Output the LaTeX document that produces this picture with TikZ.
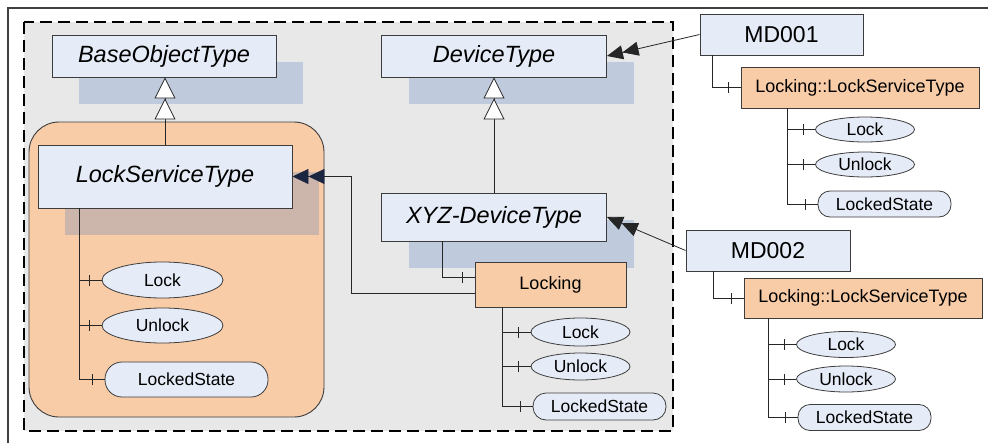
\documentclass[tikz,border=0pt]{standalone}
\usepackage{fontspec}
\setmainfont{Liberation Sans}
\usetikzlibrary{arrows.meta, shapes.geometric, shadows, decorations.markings}

\definecolor{boxblue}{RGB}{230,236,247}
\definecolor{svcorange}{RGB}{249,204,168}
\definecolor{bggray}{RGB}{232,232,232}
\definecolor{edgegray}{RGB}{60,60,60}
\definecolor{tipnavy}{RGB}{27,38,64}
\definecolor{shadeblue}{RGB}{62,113,185}

\begin{document}
\begin{tikzpicture}[
    x=1pt, y=-1pt,
    typebox/.style={rectangle, draw=edgegray, line width=0.9pt, fill=boxblue, inner sep=0pt,
        font=\fontsize{23.5}{26}\selectfont\itshape,
        drop shadow={shadow xshift=27pt, shadow yshift=-27pt, fill=shadeblue, opacity=0.24}},
    mdbox/.style={rectangle, draw=edgegray, line width=0.9pt, fill=boxblue, inner sep=0pt,
        font=\fontsize{23}{26}\selectfont},
    svcbox/.style={rectangle, draw=edgegray, line width=0.9pt, fill=svcorange, inner sep=0pt,
        font=\fontsize{18}{20}\selectfont},
    svcgroup/.style={rectangle, rounded corners=30pt, draw=edgegray, line width=0.9pt, fill=svcorange},
    opleaf/.style={ellipse, draw=edgegray, line width=0.8pt, fill=boxblue, inner sep=0pt,
        font=\fontsize{17.5}{20}\selectfont},
    varleaf/.style={rectangle, rounded corners=12pt, draw=edgegray, line width=0.8pt, fill=boxblue, inner sep=0pt,
        font=\fontsize{17.5}{20}\selectfont},
    conn/.style={draw=black!85, line width=0.8pt},
    branch/.style={conn, postaction={decorate, decoration={markings,
        mark=at position -12pt with {\draw[black!85, line width=0.8pt] (0,-5.5pt) -- (0,5.5pt);}}}},
    inherit/.style={conn, -{Triangle[fill=white, length=21pt, width=21pt, sep=0pt] Triangle[fill=white, length=21pt, width=21pt]}},
    realize/.style={conn, -{Triangle[length=16pt, width=14pt, sep=0pt] Triangle[length=16pt, width=14pt]}},
    refarrow/.style={conn, -{Triangle[color=tipnavy, length=16pt, width=15pt, sep=0pt] Triangle[color=tipnavy, length=16pt, width=15pt]}}
]

    \path[use as bounding box, clip] (0,0) rectangle (988,442);

    % Frame and type area
    \draw[black!75, line width=1.6pt] (8,8) rectangle (1000,450);
    \draw[dash pattern=on 12pt off 6pt, line width=1.6pt, fill=bggray] (24,22) rectangle (673,431);

    % Type definitions
    \node (lsgroup) [svcgroup, minimum width=295pt, minimum height=295pt] at (176.5,269.5) {};
    \node (base) [typebox, minimum width=224pt, minimum height=42pt] at (164,56) {BaseObjectType};
    \node (dev) [typebox, minimum width=225pt, minimum height=42pt] at (494,56) {DeviceType};
    \node (lst) [typebox, minimum width=254pt, minimum height=63pt] at (165,176.5) {LockServiceType};
    \node (xyz) [typebox, minimum width=225pt, minimum height=48pt] at (494,217) {XYZ-DeviceType};
    \node (locking) [svcbox, minimum width=151pt, minimum height=45pt] at (550.5,284.5) {Locking};

    % LockServiceType members
    \node (lstlock) [opleaf, minimum width=121pt, minimum height=36pt] at (162.5,280) {Lock};
    \node (lstunlock) [opleaf, minimum width=121pt, minimum height=35pt] at (162.5,325.5) {Unlock};
    \node (lststate) [varleaf, rounded corners=17pt, minimum width=163pt, minimum height=35pt] at (186.5,379.5) {LockedState};

    % Locking members
    \node (lklock) [opleaf, minimum width=99pt, minimum height=28pt] at (580.5,332) {Lock};
    \node (lkunlock) [opleaf, minimum width=99pt, minimum height=27pt] at (580.5,366.5) {Unlock};
    \node (lkstate) [varleaf, rounded corners=13pt, minimum width=133pt, minimum height=27pt] at (599.5,406.5) {LockedState};

    % Instance MD001
    \node (md1) [mdbox, minimum width=163pt, minimum height=41pt] at (781.5,34.5) {MD001};
    \node (md1svc) [svcbox, minimum width=238pt, minimum height=41pt] at (860,87.5) {Locking::LockServiceType};
    \node (md1lock) [opleaf, minimum width=99pt, minimum height=25pt] at (865,129.5) {Lock};
    \node (md1unlock) [opleaf, minimum width=99pt, minimum height=25pt] at (865,164.5) {Unlock};
    \node (md1state) [varleaf, minimum width=133pt, minimum height=26pt] at (884.5,204) {LockedState};

    % Instance MD002
    \node (md2) [mdbox, minimum width=164pt, minimum height=41pt] at (768,250.5) {MD002};
    \node (md2svc) [svcbox, minimum width=238pt, minimum height=40pt] at (863,298) {Locking::LockServiceType};
    \node (md2lock) [opleaf, minimum width=99pt, minimum height=26pt] at (846,344.5) {Lock};
    \node (md2unlock) [opleaf, minimum width=99pt, minimum height=26pt] at (846,379) {Unlock};
    \node (md2state) [varleaf, minimum width=133pt, minimum height=26pt] at (864.5,417.5) {LockedState};

    % Subtype arrows
    \draw [inherit] (lst.north) -- (lst.north |- base.south);
    \draw [inherit] (xyz.north) -- (dev.south);

    % Type definition arrows
    \draw [realize] (md1.west) -- (dev.east);
    \draw [realize] (md2.west) -- (xyz.east);
    \draw [refarrow] ([yshift=-8.5pt]locking.west) -| ([xshift=59pt]lst.east) -- (lst.east);

    % Component references
    \draw [branch] ([xshift=61pt]xyz.south west) |- ([yshift=7.5pt]locking.west);
    \draw [branch] ([xshift=13pt]md1.south west) |- (md1svc.west);
    \draw [branch] ([xshift=28pt]md2.south west) |- (md2svc.west);

    \draw [branch] ([xshift=42pt]lst.south west) |- (lstlock.west);
    \draw [branch] ([xshift=42pt]lst.south west) |- (lstunlock.west);
    \draw [branch] ([xshift=42pt]lst.south west) |- (lststate.west);

    \draw [branch] ([xshift=28pt]locking.south west) |- (lklock.west);
    \draw [branch] ([xshift=28pt]locking.south west) |- (lkunlock.west);
    \draw [branch] ([xshift=28pt]locking.south west) |- (lkstate.west);

    \draw [branch] ([xshift=47pt]md1svc.south west) |- (md1lock.west);
    \draw [branch] ([xshift=47pt]md1svc.south west) |- (md1unlock.west);
    \draw [branch] ([xshift=47pt]md1svc.south west) |- (md1state.west);

    \draw [branch] ([xshift=25pt]md2svc.south west) |- (md2lock.west);
    \draw [branch] ([xshift=25pt]md2svc.south west) |- (md2unlock.west);
    \draw [branch] ([xshift=25pt]md2svc.south west) |- (md2state.west);

\end{tikzpicture}
\end{document}
